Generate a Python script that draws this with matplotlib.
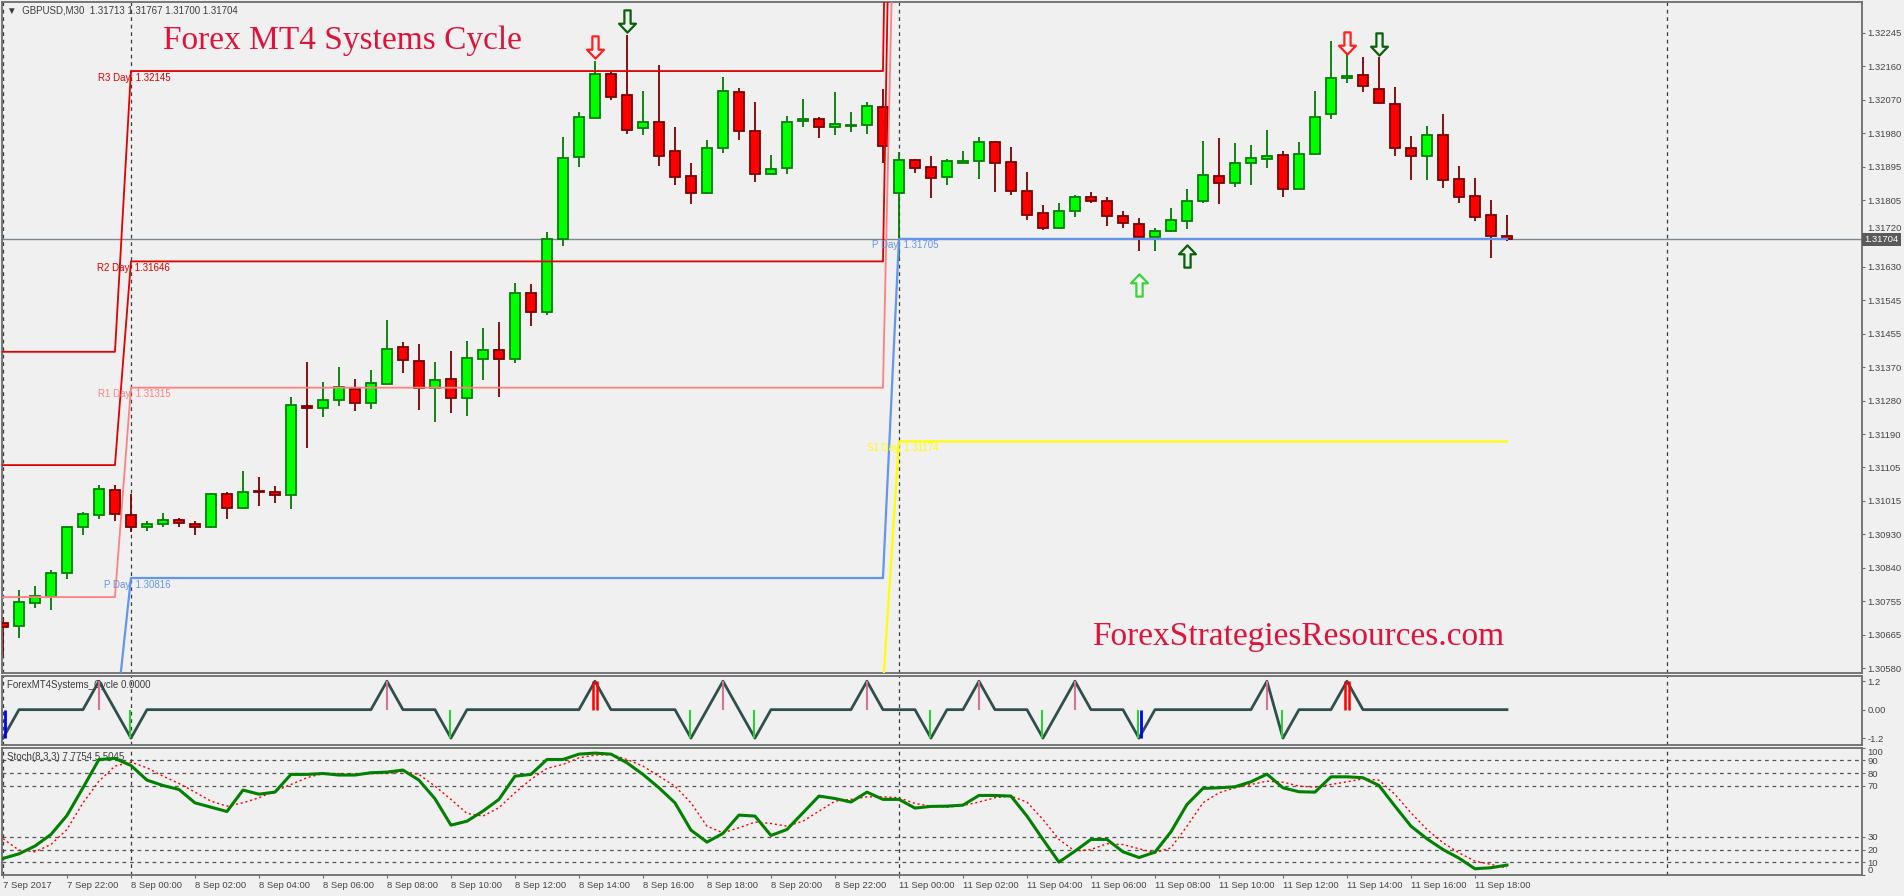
import numpy as np
import matplotlib
matplotlib.use('Agg')
import matplotlib.pyplot as plt
from matplotlib.path import Path
from matplotlib.transforms import blended_transform_factory

plt.rcParams['font.family'] = ['Liberation Sans', 'DejaVu Sans']

# ---------------- data ----------------
header = '\u25bc  GBPUSD,M30  1.31713 1.31767 1.31700 1.31704'

opens = [1.30697, 1.30691, 1.30750, 1.30767, 1.30828, 1.30949, 1.30980, 1.31046, 1.30980, 1.30949,
         1.30957, 1.30967, 1.30957, 1.30949, 1.31035, 1.31000, 1.31044, 1.31041, 1.31033, 1.31267,
         1.31261, 1.31282, 1.31312, 1.31274, 1.31325, 1.31421, 1.31385, 1.31315, 1.31337, 1.31289,
         1.31391, 1.31413, 1.31391, 1.31562, 1.31514, 1.31706, 1.31919, 1.32021, 1.32137, 1.32082,
         1.31997, 1.32011, 1.31936, 1.31869, 1.31826, 1.31942, 1.32090, 1.31987, 1.31875, 1.31890,
         1.32015, 1.32020, 1.31998, 1.32002, 1.32003, 1.32050, 1.31825, 1.31911, 1.31893, 1.31867,
         1.31904, 1.31909, 1.31958, 1.31906, 1.31830, 1.31772, 1.31734, 1.31777, 1.31814, 1.31804,
         1.31764, 1.31743, 1.31711, 1.31725, 1.31751, 1.31805, 1.31869, 1.31852, 1.31903, 1.31914,
         1.31924, 1.31835, 1.31927, 1.32032, 1.32126, 1.32134, 1.32097, 1.32058, 1.31943, 1.31922,
         1.31977, 1.31861, 1.31817, 1.31767, 1.31713]
highs = [1.30713, 1.30785, 1.30795, 1.30837, 1.30953, 1.30988, 1.31060, 1.31060, 1.31036, 1.30965,
         1.30986, 1.30973, 1.30965, 1.31039, 1.31042, 1.31097, 1.31081, 1.31057, 1.31291, 1.31382,
         1.31330, 1.31369, 1.31338, 1.31361, 1.31492, 1.31435, 1.31430, 1.31382, 1.31411, 1.31437,
         1.31471, 1.31487, 1.31589, 1.31587, 1.31723, 1.31972, 1.32038, 1.32172, 1.32146, 1.32240,
         1.32094, 1.32161, 1.31999, 1.31904, 1.31964, 1.32130, 1.32100, 1.32064, 1.31925, 1.32027,
         1.32072, 1.32024, 1.32090, 1.32037, 1.32063, 1.32097, 1.31933, 1.31915, 1.31921, 1.31914,
         1.31936, 1.31972, 1.31961, 1.31947, 1.31881, 1.31794, 1.31798, 1.31820, 1.31828, 1.31815,
         1.31778, 1.31759, 1.31733, 1.31785, 1.31836, 1.31962, 1.31970, 1.31956, 1.31951, 1.31991,
         1.31936, 1.31958, 1.32093, 1.32224, 1.32214, 1.32182, 1.32182, 1.32103, 1.31975, 1.32001,
         1.32032, 1.31896, 1.31865, 1.31807, 1.31767]
lows = [1.30614, 1.30658, 1.30737, 1.30732, 1.30813, 1.30929, 1.30972, 1.30966, 1.30936, 1.30940,
        1.30951, 1.30951, 1.30929, 1.30948, 1.30971, 1.30998, 1.31006, 1.31013, 1.30998, 1.31158,
        1.31239, 1.31267, 1.31255, 1.31260, 1.31325, 1.31354, 1.31257, 1.31226, 1.31249, 1.31242,
        1.31336, 1.31291, 1.31380, 1.31477, 1.31506, 1.31687, 1.31893, 1.32021, 1.32068, 1.31980,
        1.31978, 1.31897, 1.31846, 1.31797, 1.31823, 1.31931, 1.31963, 1.31855, 1.31875, 1.31876,
        1.31999, 1.31970, 1.31978, 1.31984, 1.31981, 1.31905, 1.31655, 1.31877, 1.31813, 1.31845,
        1.31903, 1.31862, 1.31829, 1.31821, 1.31755, 1.31728, 1.31734, 1.31763, 1.31800, 1.31740,
        1.31734, 1.31674, 1.31672, 1.31722, 1.31732, 1.31800, 1.31797, 1.31842, 1.31845, 1.31892,
        1.31814, 1.31835, 1.31924, 1.32018, 1.32113, 1.32091, 1.32061, 1.31923, 1.31860, 1.31860,
        1.31839, 1.31800, 1.31753, 1.31656, 1.31700]
closes = [1.30687, 1.30752, 1.30769, 1.30828, 1.30949, 1.30983, 1.31049, 1.30983, 1.30949, 1.30957,
          1.30967, 1.30959, 1.30949, 1.31035, 1.31000, 1.31041, 1.31041, 1.31033, 1.31269, 1.31261,
          1.31282, 1.31316, 1.31274, 1.31327, 1.31416, 1.31387, 1.31315, 1.31335, 1.31289, 1.31392,
          1.31413, 1.31391, 1.31562, 1.31514, 1.31704, 1.31916, 1.32024, 1.32137, 1.32078, 1.31990,
          1.32011, 1.31923, 1.31868, 1.31826, 1.31943, 1.32093, 1.31989, 1.31875, 1.31888, 1.32011,
          1.32018, 1.31998, 1.32006, 1.32004, 1.32053, 1.31948, 1.31911, 1.31890, 1.31864, 1.31909,
          1.31909, 1.31958, 1.31905, 1.31830, 1.31767, 1.31734, 1.31777, 1.31814, 1.31805, 1.31766,
          1.31746, 1.31711, 1.31725, 1.31754, 1.31804, 1.31872, 1.31852, 1.31903, 1.31916, 1.31922,
          1.31835, 1.31927, 1.32024, 1.32126, 1.32131, 1.32105, 1.32061, 1.31943, 1.31922, 1.31977,
          1.31859, 1.31814, 1.31762, 1.31712, 1.31704]

# x axis: one label every 4 bars (2 hours of M30)
time_labels = ['7 Sep 2017', '7 Sep 22:00', '8 Sep 00:00', '8 Sep 02:00', '8 Sep 04:00', '8 Sep 06:00',
               '8 Sep 08:00', '8 Sep 10:00', '8 Sep 12:00', '8 Sep 14:00', '8 Sep 16:00', '8 Sep 18:00',
               '8 Sep 20:00', '8 Sep 22:00', '11 Sep 00:00', '11 Sep 02:00', '11 Sep 04:00', '11 Sep 06:00',
               '11 Sep 08:00', '11 Sep 10:00', '11 Sep 12:00', '11 Sep 14:00', '11 Sep 16:00', '11 Sep 18:00']
price_labels = ['1.32245', '1.32160', '1.32070', '1.31980', '1.31895', '1.31805', '1.31720', '1.31630',
                '1.31545', '1.31455', '1.31370', '1.31280', '1.31190', '1.31105', '1.31015', '1.30930',
                '1.30840', '1.30755', '1.30665', '1.30580']
day_start = [0, 8, 56, 104]   # period separators (last one is in the empty future area)

# daily pivots for 7 Sep, 8 Sep, 11 Sep
pivot_names = ['R3', 'R2', 'R1', 'P', 'S1']
pivot_levels = {'R3': [1.31409, 1.32145, 1.34800],
                'R2': [1.31112, 1.31646, 1.34000],
                'R1': [1.30766, 1.31315, 1.33200],
                'P':  [1.30425, 1.30816, 1.31705],
                'S1': [1.29900, 1.30530, 1.31174]}
pivot_colors = {'R3': '#E00000', 'R2': '#E00000', 'R1': '#FF8080', 'P': '#6495ED', 'S1': '#FFFF00'}

# signal arrows on the price chart
arrow_down_red = [37, 84]
arrow_down_red_y = [1.32208, 1.32219]
arrow_down_green = [39, 86]
arrow_down_green_y = [1.32276, 1.32217]
arrow_up_lime = [71]
arrow_up_lime_y = [1.31584]
arrow_up_green = [74]
arrow_up_green_y = [1.31660]

# ForexMT4Systems_Cycle
cycle = [-1.2, 0, 0, 0, 0, 0, 1.2, 0, -1.2, 0, 0, 0, 0, 0, 0, 0, 0, 0, 0, 0,
         0, 0, 0, 0, 1.2, 0, 0, 0, -1.2, 0, 0, 0, 0, 0, 0, 0, 0, 1.2, 0, 0,
         0, 0, 0, -1.2, 0, 1.2, 0, -1.2, 0, 0, 0, 0, 0, 0, 1.2, 0, 0, 0, -1.2, 0,
         0, 1.2, 0, 0, 0, -1.2, 0, 1.2, 0, 0, 0, -1.2, 0, 0, 0, 0, 0, 0, 0, 1.2,
         -1.2, 0, 0, 0, 1.2, 0, 0, 0, 0, 0, 0, 0, 0, 0, 0]
cyc_pink = [6, 24, 45, 54, 61, 67, 79]
cyc_red = [37, 84]
cyc_green = [8, 28, 43, 47, 58, 65, 71, 80]
cyc_blue = [0, 71]

# Stochastic(8,3,3)
stoch_main = [13.0, 16.6, 22.7, 31.8, 46.7, 68.4, 90.6, 91.4, 85.9, 74.4,
              70.2, 67.1, 56.6, 53.2, 49.8, 66.6, 63.4, 65.0, 78.9, 78.9,
              79.6, 78.4, 78.4, 80.2, 80.7, 82.3, 74.4, 59.8, 39.1, 42.2,
              50.1, 59.3, 77.5, 78.9, 90.6, 90.6, 94.8, 95.6, 94.8, 88.0,
              78.9, 68.4, 56.6, 35.2, 25.8, 32.6, 47.0, 46.2, 31.0, 35.7,
              48.8, 61.9, 60.0, 57.2, 65.0, 59.3, 59.3, 52.5, 53.8, 54.0,
              54.8, 62.4, 62.4, 61.9, 46.2, 27.9, 10.1, 18.7, 27.9, 27.9,
              18.2, 13.7, 17.9, 33.9, 55.3, 67.9, 68.4, 69.2, 73.1, 79.1,
              68.4, 65.3, 65.0, 77.0, 77.0, 76.3, 70.2, 54.0, 38.3, 28.4,
              20.0, 13.2, 4.9, 5.7, 7.78]
stoch_signal = [28.4, 19.5, 18.2, 23.9, 35.7, 56.6, 73.6, 85.4, 88.5, 84.1,
                77.5, 71.8, 65.0, 57.9, 54.0, 56.6, 60.6, 65.8, 71.0, 76.3,
                79.6, 79.6, 78.9, 79.6, 79.6, 81.2, 78.9, 69.7, 59.3, 48.3,
                46.2, 52.8, 64.5, 75.0, 83.6, 86.7, 91.9, 94.0, 94.5, 90.6,
                85.4, 77.5, 69.7, 56.6, 38.3, 33.1, 37.0, 41.5, 40.4, 38.3,
                42.2, 50.1, 57.9, 59.3, 61.3, 61.3, 60.6, 56.1, 54.0, 53.2,
                54.5, 57.2, 60.6, 61.9, 57.2, 43.6, 27.9, 18.7, 20.0, 24.5,
                23.9, 20.6, 17.4, 21.3, 38.3, 56.6, 64.5, 68.4, 71.0, 73.6,
                72.8, 69.7, 68.9, 71.0, 73.1, 75.4, 74.4, 63.2, 48.8, 35.7,
                25.3, 17.4, 10.9, 8.3, 5.50]
stoch_levels = [90, 80, 70, 30, 20, 10]

# ---------------- figure ----------------
BG = '#F0F0F0'
EDGE = '#6D6D6D'
TXT = '#454545'
W, H = 1904, 896
fig = plt.figure(figsize=(W / 100, H / 100), dpi=100, facecolor=BG)

ax = fig.add_axes([2 / W, (H - 673) / H, 1860 / W, 671 / H], facecolor=BG)
axc = fig.add_axes([2 / W, (H - 745) / H, 1860 / W, 69.5 / H], facecolor=BG, sharex=ax)
axs = fig.add_axes([2 / W, (H - 875) / H, 1860 / W, 127.5 / H], facecolor=BG, sharex=ax)

n = len(closes)
x = np.arange(n)
o = np.array(opens); h = np.array(highs); l = np.array(lows); c = np.array(closes)
bull = c >= o

# candles
ax.vlines(x[bull], l[bull], h[bull], color='#007A00', lw=1.3, zorder=2)
ax.vlines(x[~bull], l[~bull], h[~bull], color='#7A0000', lw=1.3, zorder=2)
body_lo = np.minimum(o, c)
body_h = np.maximum(np.abs(c - o), 0.000012)
ax.bar(x[bull], body_h[bull], bottom=body_lo[bull], width=0.66, color='#00FF00',
       edgecolor='#008000', linewidth=1.3, zorder=3)
ax.bar(x[~bull], body_h[~bull], bottom=body_lo[~bull], width=0.66, color='#FF0000',
       edgecolor='#7A0000', linewidth=1.3, zorder=3)

# current price line
ax.axhline(closes[-1], color='#7C8791', lw=1, zorder=1)

# pivot lines (one level per day, joined between days like the MT4 buffers)
day_idx = np.searchsorted(day_start[:3], x, side='right') - 1
for name in pivot_names:
    lv = np.array(pivot_levels[name])
    lw = 1.3 if name in ('R3', 'R2', 'R1') else 1.6
    ax.plot(x, lv[day_idx], color=pivot_colors[name], lw=lw, zorder=4)
ylo, yhi = 1.30567, 1.32326
for d in range(1, 3):
    for name in pivot_names:
        v = pivot_levels[name][d]
        if ylo < v < yhi:
            ax.text(day_start[d] + 2.45, v - 0.00004, '%s Day: %.5f' % (name, v), color=pivot_colors[name],
                    fontsize=7, ha='right', va='top', zorder=5)

# arrows
dn = Path([(-0.14, 0.5), (0.14, 0.5), (0.14, -0.1), (0.38, -0.1), (0, -0.5), (-0.38, -0.1),
           (-0.14, -0.1), (-0.14, 0.5)], closed=True)
up = Path([(vx, -vy) for vx, vy in dn.vertices], closed=True)
ax.plot(arrow_down_red, arrow_down_red_y, ls='none', marker=dn, ms=16, mfc='#FCF4F4', mec='#FF2020', mew=1.6, zorder=6)
ax.plot(arrow_down_green, arrow_down_green_y, ls='none', marker=dn, ms=16, mfc='#EEF5EE', mec='#0B5E0B', mew=1.6, zorder=6)
ax.plot(arrow_up_lime, arrow_up_lime_y, ls='none', marker=up, ms=16, mfc='#F4FFF4', mec='#3CD23C', mew=1.6, zorder=6)
ax.plot(arrow_up_green, arrow_up_green_y, ls='none', marker=up, ms=16, mfc='#EEF5EE', mec='#0B5E0B', mew=1.6, zorder=6)

ax.set_ylim(ylo, yhi)
ax.set_xlim(-0.06, 116.19)
ax.yaxis.tick_right()
ax.set_yticks(np.linspace(float(price_labels[-1]), float(price_labels[0]), len(price_labels)), price_labels[::-1])
ax.tick_params(axis='x', bottom=False, labelbottom=False)
# the label right above the last price peeks out over the price box, as in MT4
for lbl in ax.get_yticklabels():
    if lbl.get_text() == '1.31720':
        lbl.set_va('bottom')

# price box on the axis
tr = blended_transform_factory(ax.transAxes, ax.transData)
ax.text(1.0012, closes[-1], '%.5f' % closes[-1], transform=tr, ha='left', va='center', color='white',
        fontsize=6.8, zorder=10, clip_on=False,
        bbox=dict(boxstyle='square,pad=0.22', fc='#5A5A5A', ec='none'))

ax.text(0.0025, 0.988, header, transform=ax.transAxes, fontsize=7, color='#3C3C3C', va='center', ha='left')

# watermark titles
fig.text(163 / W, 1 - 49 / H, 'Forex MT4 Systems Cycle', color='#DC143C', fontsize=24,
         family=['Liberation Serif', 'DejaVu Serif'], va='baseline')
fig.text(1092 / W, 1 - 645 / H, 'ForexStrategiesResources.com', color='#DC143C', fontsize=24,
         family=['Liberation Serif', 'DejaVu Serif'], va='baseline')

# cycle panel
axc.plot(x, cycle, color='#2F4F4F', lw=2, zorder=3)
cyc = np.array(cycle)
axc.vlines(cyc_pink, 0, cyc[cyc_pink], color='#DB7093', lw=1.5, zorder=4)
for off in (-0.12, 0.12):
    axc.vlines(np.array(cyc_red) + off, 0, cyc[cyc_red], color='#FF0000', lw=1.8, zorder=4)
axc.vlines(np.array(cyc_green) - 0.06, 0, cyc[cyc_green], color='#32CD32', lw=1.5, zorder=4)
axc.vlines(np.array(cyc_blue) + 0.12, 0, cyc[cyc_blue], color='#0000FF', lw=2, zorder=4)
axc.set_ylim(-1.49, 1.44)
axc.yaxis.tick_right()
axc.set_yticks([1.2, 0, -1.2], ['1.2', '0.00', '-1.2'])
axc.tick_params(axis='x', bottom=False, labelbottom=False)
axc.text(0.0025, 0.86, 'ForexMT4Systems_Cycle 0.0000', transform=axc.transAxes, fontsize=7,
         color='#3C3C3C', va='center')

# stochastic panel
for lv in stoch_levels:
    axs.axhline(lv, color='#555555', lw=0.9, ls=(0, (3, 3)), zorder=1)
axs.plot(x, stoch_signal, color='#FF0000', lw=1, ls=(0, (1.5, 2)), zorder=3)
axs.plot(x, stoch_main, color='#008000', lw=2.2, zorder=4)
axs.set_ylim(0, 100)
axs.yaxis.tick_right()
axs.set_yticks([0, 10, 20, 30, 70, 80, 90, 100], ['0', '10', '20', '30', '70', '80', '90', '100'])
for lbl in axs.get_yticklabels():
    if lbl.get_text() == '100':
        lbl.set_va('top')
    elif lbl.get_text() == '0':
        lbl.set_va('bottom')
axs.set_xticks(np.arange(0, n, 4), time_labels)
for lbl in axs.get_xticklabels():
    lbl.set_ha('left')
axs.text(0.0025, 0.925, 'Stoch(8,3,3) 7.7754 5.5045', transform=axs.transAxes, fontsize=7,
         color='#3C3C3C', va='center')

for a in (ax, axc, axs):
    for b in day_start:
        a.axvline(b, color='#3A3A3A', lw=0.9, ls=(0, (3, 3)), zorder=1)
    for s in a.spines.values():
        s.set_color(EDGE)
        s.set_linewidth(1.3)
    a.tick_params(axis='y', direction='out', length=2.5, pad=1.5, labelsize=6.8,
                  labelcolor=TXT, color=EDGE)
axs.tick_params(axis='x', direction='out', length=2.5, pad=1.5, labelsize=6.8, labelcolor=TXT, color=EDGE)

fig.savefig('out.png', dpi=100, facecolor=BG)
